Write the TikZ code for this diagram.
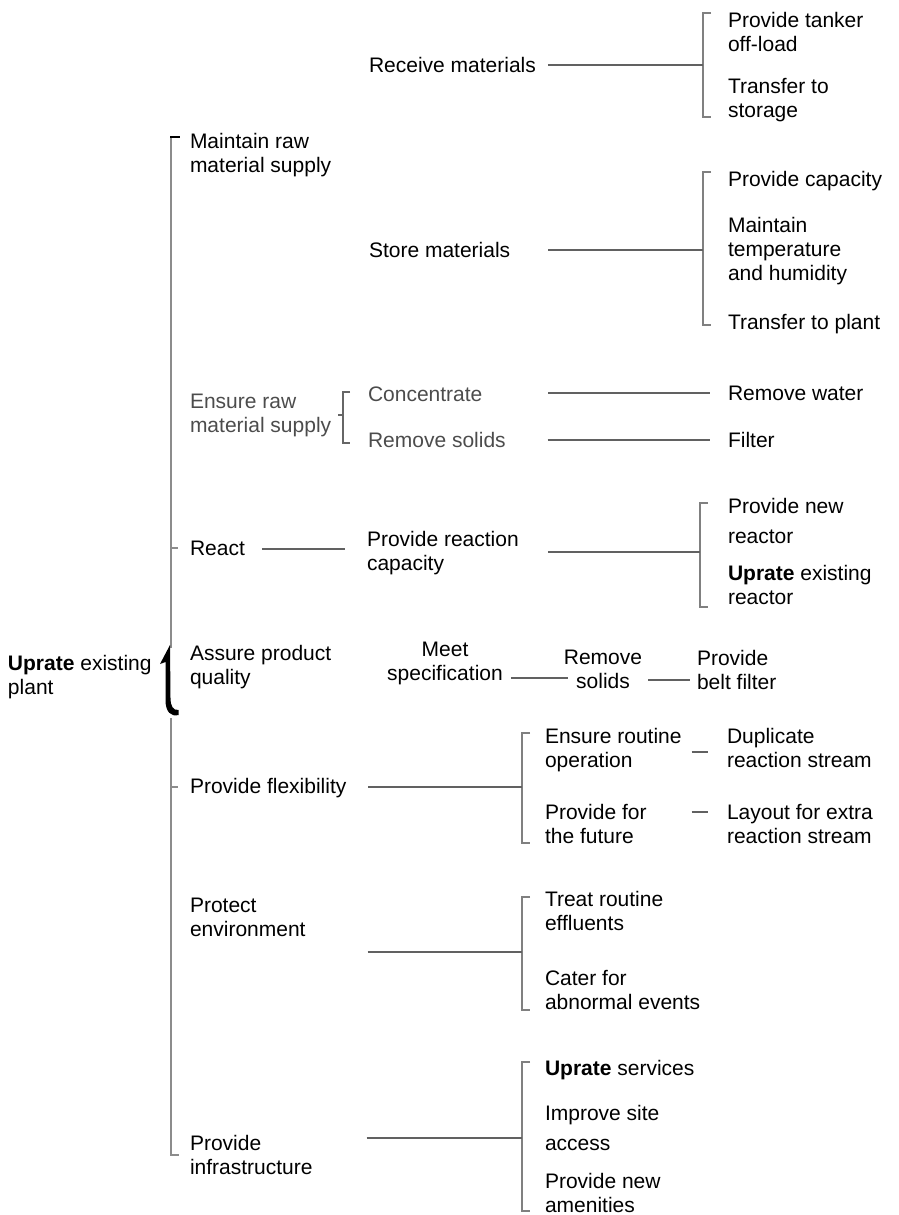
\documentclass[tikz,border=0pt]{standalone}
\usepackage{fontspec}
\setmainfont{Liberation Sans}
\begin{document}
\begin{tikzpicture}[x=1pt,y=-1pt,
  txt/.style={anchor=north west, inner sep=0pt, outer sep=0pt, align=left,
    yshift=9.5pt, font=\fontsize{21}{24}\selectfont, execute at begin node=\strut},
  ctxt/.style={txt, anchor=north, align=center},
  dim/.style={text=black!70},
  conn/.style={draw=black!62, line width=1.1pt},
  brk/.style={draw=black!50, line width=1.1pt},
  trunk/.style={draw=black!45, line width=1.6pt},
]
\useasboundingbox (0,0) rectangle (899,1215);

% ---- root and first level
\node[txt] (root) at (8,665) {\textbf{Uprate} existing\\plant};
\node[txt] (m1) at (190,143) {Maintain raw\\material supply};
\node[txt,dim] (m2) at (190,404) {Ensure raw\\material supply};
\node[txt] (m3) at (190,548) {React};
\node[txt] (m4) at (190,655) {Assure product\\quality};
\node[txt] (m5) at (190,786) {Provide flexibility};
\node[txt] (m6) at (190,908) {Protect\\environment};
\node[txt] (m7) at (190,1145) {Provide\\infrastructure};

% ---- second level
\node[txt] (r1) at (369,65) {Receive materials};
\node[txt] (r2) at (369,250) {Store materials};
\node[txt,dim] (c1) at (368,394) {Concentrate};
\node[txt,dim] (c2) at (368,440) {Remove solids};
\node[txt] (p1) at (367,541) {Provide reaction\\capacity};
\node[ctxt] (q1) at (445,652) {Meet\\specification};
\node[ctxt] (q2) at (603,660) {Remove\\solids};
\node[txt] (q3) at (697,660) {Provide\\belt filter};
\node[txt] (f1) at (545,738) {Ensure routine\\operation};
\node[txt] (f2) at (545,814) {Provide for\\the future};
\node[txt] (e1) at (545,901) {Treat routine\\effluents};
\node[txt] (e2) at (545,980) {Cater for\\abnormal events};
\node[txt] (i1) at (545,1068) {\textbf{Uprate} services};
\node[txt] (i2) at (545,1115) {Improve site\\[6pt]access};
\node[txt] (i3) at (545,1183) {Provide new\\amenities};

% ---- third level
\node[txt] (t1) at (728,22) {Provide tanker\\off-load};
\node[txt] (t2) at (728,88) {Transfer to\\storage};
\node[txt] (s1) at (728,179) {Provide capacity};
\node[txt] (s2) at (728,227) {Maintain\\temperature\\and humidity};
\node[txt] (s3) at (728,322) {Transfer to plant};
\node[txt] (w1) at (728,393) {Remove water};
\node[txt] (w2) at (728,440) {Filter};
\node[txt] (n1) at (728,508) {Provide new\\[6pt]reactor};
\node[txt] (n2) at (728,575) {\textbf{Uprate} existing\\reactor};
\node[txt] (d1) at (727,738) {Duplicate\\reaction stream};
\node[txt] (d2) at (727,814) {Layout for extra\\reaction stream};

% ---- bracket corners and mid points
\coordinate (B1t) at (703,13);   \coordinate (B1b) at (703,117);  \coordinate (B1m) at (703,65);
\coordinate (B2t) at (703,172);  \coordinate (B2b) at (703,325);  \coordinate (B2m) at (703,250);
\coordinate (B3t) at (343,392);  \coordinate (B3b) at (343,443);  \coordinate (B3m) at (343,415);
\coordinate (B4t) at (700,503);  \coordinate (B4b) at (700,607);  \coordinate (B4m) at (700,552);
\coordinate (B5t) at (522,733);  \coordinate (B5b) at (522,843);  \coordinate (B5m) at (522,787);
\coordinate (B6t) at (522,897);  \coordinate (B6b) at (522,1010); \coordinate (B6m) at (522,952);
\coordinate (B7t) at (522,1062); \coordinate (B7b) at (522,1211); \coordinate (B7m) at (522,1138);

\foreach \b in {B1,B2,B4,B5,B6,B7}
  \draw[brk] ([xshift=8pt]\b t) -- (\b t) -- (\b b) -- ([xshift=8pt]\b b);
\draw[brk,draw=black!60] ([xshift=7pt]B3t) -- (B3t) -- (B3b) -- ([xshift=7pt]B3b);
\draw[brk,draw=black!60] (m2.east |- B3m) ++(7,0) -- (B3m);

% ---- levels of the connector lines
\coordinate (Y1) at (0,393);
\coordinate (Y2) at (0,440);
\coordinate (Y3) at (0,549);
\coordinate (Y4) at (0,678);
\coordinate (Y5) at (0,680);
\coordinate (Y6) at (0,752);
\coordinate (Y7) at (0,812);

% ---- connectors
\draw[conn, shorten <=12pt] (r1.east |- B1m) -- (B1m);
\draw[conn, shorten <=38pt] (r2.east |- B2m) -- (B2m);
\draw[conn, shorten <=66pt, shorten >=18pt] (c1.east |- Y1) -- (w1.west |- Y1);
\draw[conn, shorten <=42pt, shorten >=18pt] (c2.east |- Y2) -- (w2.west |- Y2);
\draw[conn, shorten <=17pt, shorten >=22pt] (m3.east |- Y3) -- (p1.west |- Y3);
\draw[conn, shorten <=29pt] (p1.east |- B4m) -- (B4m);
\draw[conn, shorten <=8pt, shorten >=-4pt] (q1.east |- Y4) -- (q2.west |- Y4);
\draw[conn, shorten <=6pt, shorten >=7pt] (q2.east |- Y5) -- (q3.west |- Y5);
\draw[conn, shorten <=22pt] (m5.east |- B5m) -- (B5m);
\draw[conn, shorten <=62pt] (m6.east |- B6m) -- (B6m);
\draw[conn, shorten <=54pt] (m7.east |- B7m) -- (B7m);
\draw[conn, shorten <=10pt, shorten >=19pt] (f1.east |- Y6) -- (d1.west |- Y6);
\draw[conn, shorten <=45pt, shorten >=19pt] (f2.east |- Y7) -- (d2.west |- Y7);

% ---- main trunk
\coordinate (T0) at (171,137);
\coordinate (T1) at (171,648);
\coordinate (T2) at (171,718);
\coordinate (T3) at (171,1155);
\coordinate (K3) at (171,548);
\coordinate (K5) at (171,787);
\draw[trunk] (T0) -- (T1);
\draw[trunk] (T2) -- (T3) -- ++(8,0);
\draw[trunk] (K3) -- ++(7,0);
\draw[trunk] (K5) -- ++(7,0);
\draw[black, line width=2.2pt] ([xshift=-0.8pt]T0) -- ++(10,0);

% ---- heavy half brace beside the root
\fill[black] (170,645) -- (160,664) -- (165.5,662) -- (165.5,700)
  .. controls (165.5,712) and (171,717) .. (178.5,715) -- (178.5,710)
  .. controls (173,710.5) and (170.5,706) .. (170.5,698) -- cycle;
\end{tikzpicture}
\end{document}
